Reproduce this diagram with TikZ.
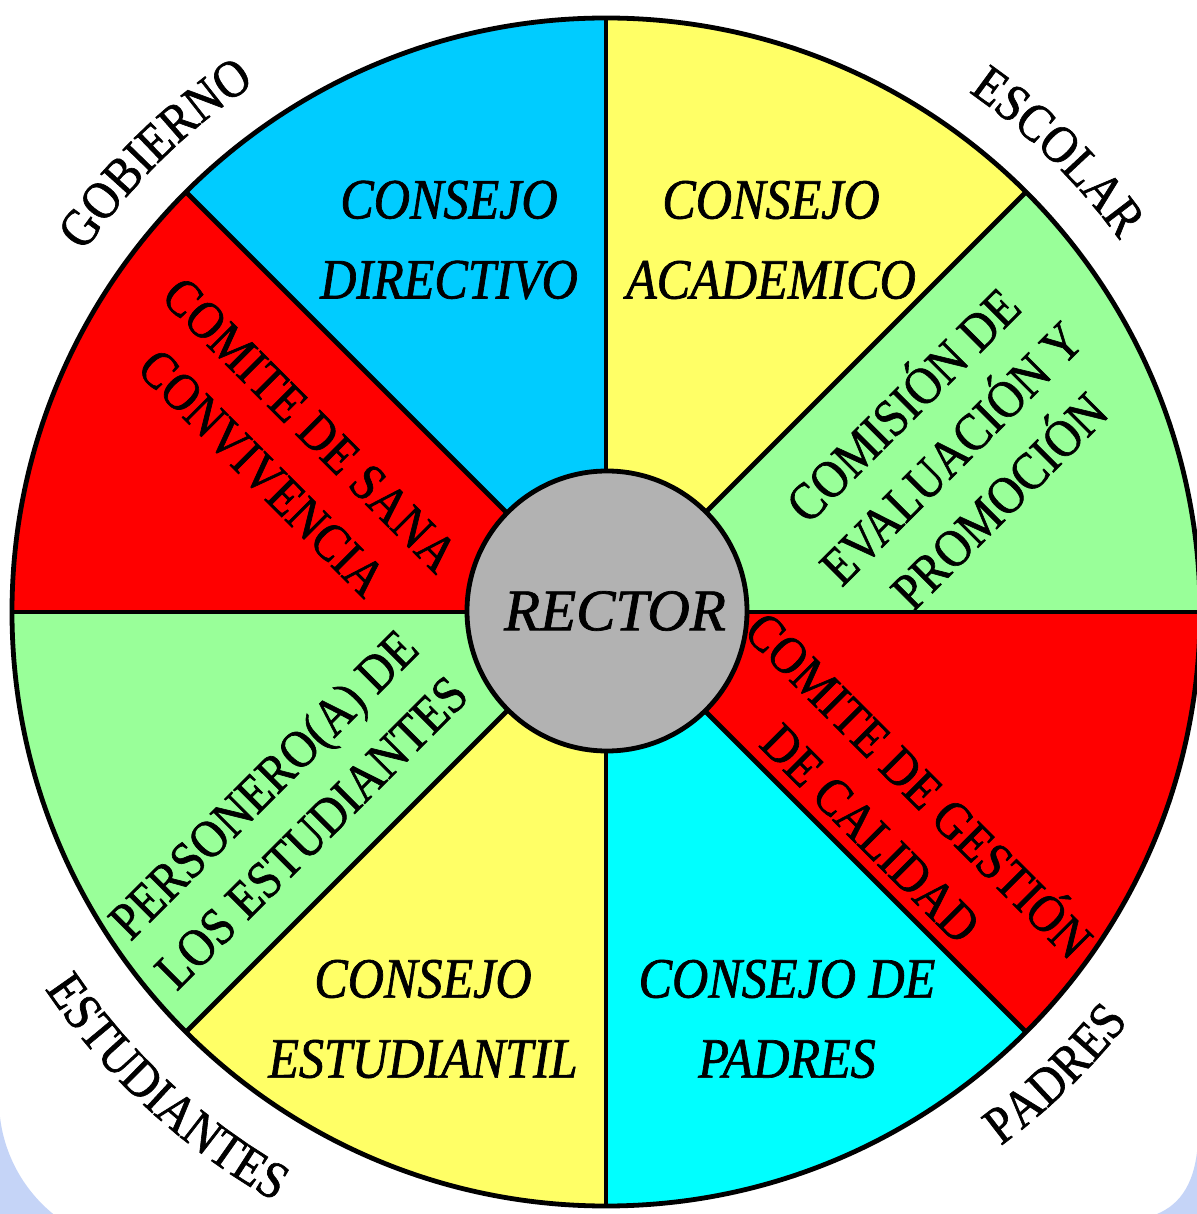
\documentclass[tikz,border=0pt]{standalone}
\usepackage{fontspec}
\setmainfont{Liberation Serif}[FakeBold=1.2]
\newfontfamily\narrowf{Liberation Serif}[FakeStretch=0.88,FakeBold=1.2]
\usetikzlibrary{decorations.text}
\definecolor{cBlue}{RGB}{0,204,255}
\definecolor{cYellow}{RGB}{255,255,102}
\definecolor{cGreen}{RGB}{153,255,153}
\definecolor{cRed}{RGB}{255,0,0}
\definecolor{cCyan}{RGB}{0,255,255}
\definecolor{cGray}{RGB}{178,178,178}
\definecolor{bgBlue}{RGB}{197,212,247}
\newcommand\outerfont{\narrowf\fontsize{26.5}{30}\selectfont}
\begin{document}
\begin{tikzpicture}[x=0.5pt,y=0.5pt,
  spoke/.style={line width=2.4pt},
  hlab/.style={align=center,inner sep=0pt,font=\narrowf\fontsize{28.5}{40}\selectfont\itshape},
  rlab/.style={align=center,inner sep=0pt,font=\narrowf\fontsize{26.5}{34}\selectfont},
  outer/.style={decorate,decoration={text along path,text={#1},text align=center}}]
\useasboundingbox (-606,-602) rectangle (591,612);
\fill[white] (-606,-602) rectangle (591,612);
% light blue corners of the background
\fill[bgBlue] (-607,-488) arc[start angle=180,end angle=230.8,radius=147] -- (-606,-602) -- cycle;
\fill[bgBlue] (592,-528) .. controls (590,-570) and (575,-592) .. (551,-602) -- (592,-602) -- cycle;
% sectors
\foreach \a/\c in {0/cGreen,45/cYellow,90/cBlue,135/cRed,180/cGreen,225/cYellow,270/cCyan,315/cRed}
  \fill[\c] (0,0) -- (\a:594) arc[start angle=\a,end angle=\a+45,radius=594] -- cycle;
\foreach \a in {0,45,...,315}
  \draw[spoke] (0,0) -- (\a:594);
\draw[spoke] (0,0) circle[radius=594];
% centre
\node[circle,draw,line width=2.4pt,fill=cGray,minimum size=140pt,inner sep=0pt,
      font=\fontsize{29.5}{34}\selectfont\itshape] (rector) at (1,1) {\hspace*{8pt}RECTOR};
% sector labels
\node[hlab] (directivo) at (-157,372) {CONSEJO\\DIRECTIVO};
\node[hlab] (academico) at (165,372) {CONSEJO\\ACADEMICO};
\node[hlab] (estudiantil) at (-183,-407) {CONSEJO\\ESTUDIANTIL};
\node[hlab] (padres) at (181,-407) {CONSEJO DE\\PADRES};
\node[rlab,rotate=45] (comision) at (342,162) {COMISIÓN DE\\EVALUACIÓN Y\\PROMOCIÓN};
\node[rlab,rotate=-45] (gestion) at (292,-194) {COMITE DE GESTIÓN\\DE CALIDAD};
\node[rlab,rotate=-45] (sana) at (-320,163) {COMITE DE SANA\\CONVIVENCIA};
\node[rlab,rotate=45] (personero) at (-319,-196) {PERSONERO(A) DE\\LOS ESTUDIANTES};
% outer labels
\path[outer={|\outerfont|GOBIERNO}] (165:634) arc[start angle=165,end angle=104,radius=634];
\path[outer={|\outerfont|ESCOLAR}] (76:634) arc[start angle=76,end angle=15,radius=634];
\path[outer={|\outerfont|ESTUDIANTES}] (197:676) arc[start angle=197,end angle=257.6,radius=676];
\path[outer={|\outerfont|PADRES}] (284:664) arc[start angle=284,end angle=344.4,radius=664];
\end{tikzpicture}
\end{document}
